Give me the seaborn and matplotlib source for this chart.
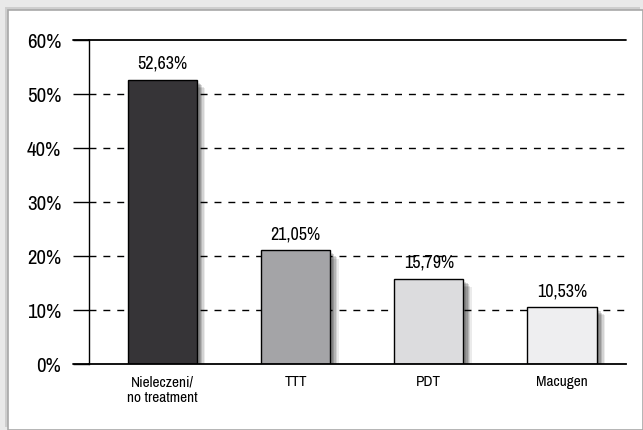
import matplotlib
matplotlib.use("Agg")
import matplotlib.pyplot as plt
import matplotlib.patheffects as pe
from matplotlib.patches import Rectangle
from matplotlib import font_manager
import seaborn as sns
import pandas as pd

categories = ["Nieleczeni/\nno treatment", "TTT", "PDT", "Macugen"]
values = [52.63, 21.05, 15.79, 10.53]
value_labels = ["52,63%", "21,05%", "15,79%", "10,53%"]
bar_colors = ["#363437", "#a4a3a8", "#dcdcde", "#eeeef0"]
yticks = [0, 10, 20, 30, 40, 50, 60]
ytick_labels = ["0%", "10%", "20%", "30%", "40%", "50%", "60%"]

sns.set_theme(style="white")
names = {f.name for f in font_manager.fontManager.ttflist}
narrow_fonts = ["Liberation Sans Narrow", "Archivo Narrow", "PT Sans Narrow", "Roboto Condensed",
                "Pragati Narrow", "Barlow Semi Condensed", "Open Sans Condensed", "Encode Sans Condensed",
                "IBM Plex Sans Condensed"]
family = next((f for f in narrow_fonts if f in names), "DejaVu Sans")
plt.rcParams["font.family"] = [family, "DejaVu Sans"]
plt.rcParams["text.color"] = "black"
plt.rcParams["xtick.color"] = "black"
plt.rcParams["ytick.color"] = "black"

W, H, DPI = 643, 430, 100
fig = plt.figure(figsize=(W / DPI, H / DPI), dpi=DPI, facecolor="#e9e9e9")

# white panel with a soft shadow frame, kept behind the axes
panel = Rectangle((8 / W, 0), 1 - 8 / W, 1 - 10 / H, transform=fig.transFigure,
                  facecolor="white", edgecolor="#a8a8a8", linewidth=1.2, zorder=-10,
                  path_effects=[pe.SimplePatchShadow(offset=(-2, 2), shadow_rgbFace="#bdbdbd", alpha=0.6),
                                pe.Normal()])
fig.patches.append(panel)

ax_l, ax_r = 89 / W, 626 / W
ax_b, ax_t = 1 - 364 / H, 1 - 40 / H
ax = fig.add_axes([ax_l, ax_b, ax_r - ax_l, ax_t - ax_b])
ax.set_facecolor("none")

df = pd.DataFrame({"category": categories, "value": values})
sns.barplot(data=df, x="category", y="value", hue="category", palette=bar_colors,
            legend=False, width=0.52, edgecolor="black", linewidth=1.0, ax=ax, zorder=3)

# soft drop shadow built from a few stacked offsets
shadow = [pe.SimplePatchShadow(offset=(d, -d), shadow_rgbFace="black", alpha=a)
          for d, a in [(6, 0.08), (5, 0.10), (4, 0.14), (3, 0.16), (2, 0.12)]] + [pe.Normal()]
for patch in ax.patches:
    patch.set_path_effects(shadow)

for i, (v, lab) in enumerate(zip(values, value_labels)):
    ax.text(i, v + 2.0, lab, ha="center", va="baseline", fontsize=13, color="black")

ax.set_xlim(-0.55, 3.48)
ax.set_ylim(0, 60)
ax.set_yticks(yticks)
ax.set_yticklabels(ytick_labels, fontsize=15)
ax.tick_params(axis="y", length=11.5, width=1.0, color="black", pad=8.5, left=True)
ax.tick_params(axis="x", length=0, pad=8, labelsize=11)
ax.set_xlabel("")
ax.set_ylabel("")

for y in yticks[1:-1]:
    ax.axhline(y, color="black", linestyle=(0, (5, 5)), linewidth=1.0, zorder=1)
ax.axhline(60, color="black", linewidth=1.3, zorder=1, clip_on=False)

for s in ["top", "right"]:
    ax.spines[s].set_visible(False)
ax.spines["left"].set_color("black")
ax.spines["left"].set_linewidth(1.0)
ax.spines["bottom"].set_color("black")
ax.spines["bottom"].set_linewidth(1.3)
ax.spines["bottom"].set_zorder(4)

# extend the base and top lines to the left under the tick marks
ax.plot([-0.55 - 0.12, -0.55], [0, 0], color="black", linewidth=1.3, clip_on=False)
ax.plot([-0.55 - 0.12, -0.55], [60, 60], color="black", linewidth=1.3, clip_on=False)

fig.savefig("out.png", dpi=DPI, facecolor=fig.get_facecolor())
